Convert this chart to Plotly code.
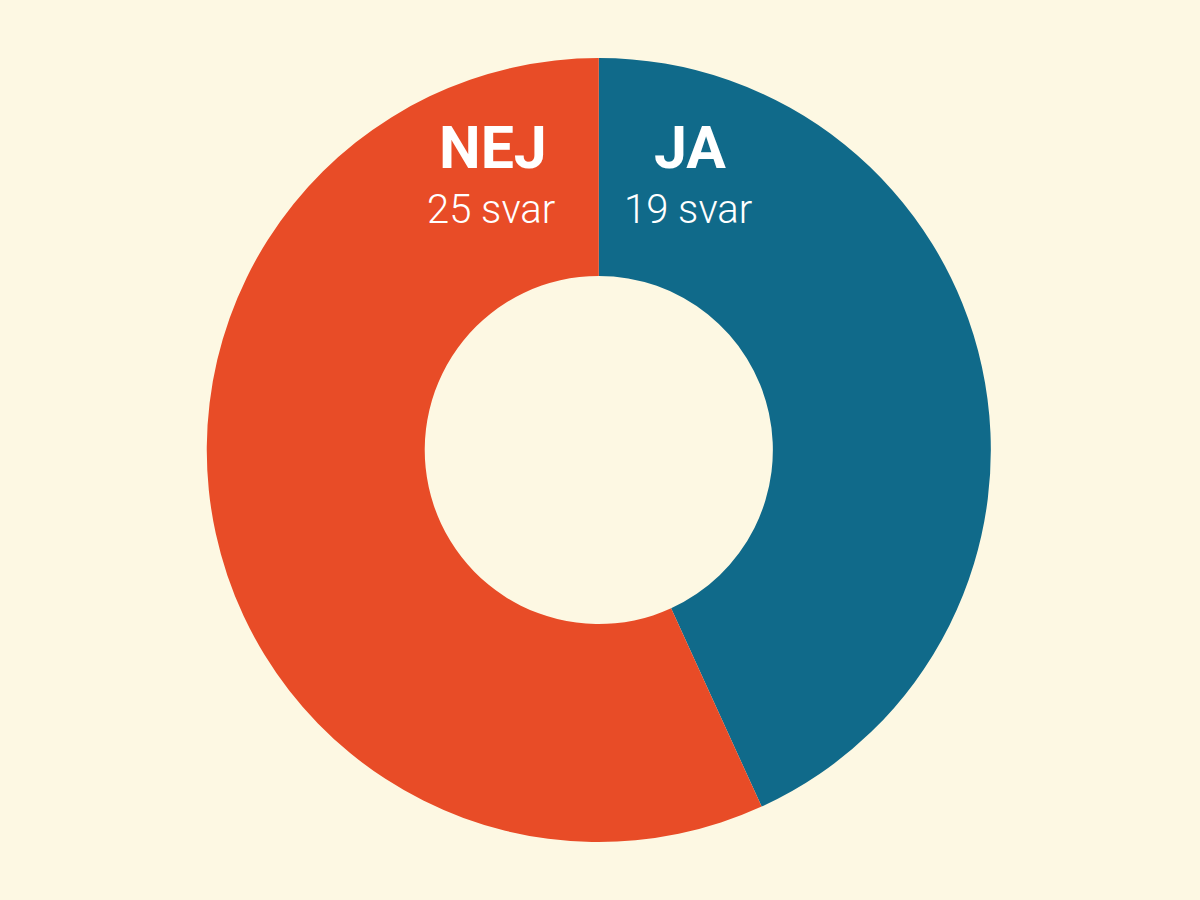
import plotly.graph_objects as go

labels = ["JA", "NEJ"]
values = [19, 25]
colors = ["#106A8A", "#E84C27"]
bg = "#FDF8E3"

fig = go.Figure(go.Pie(
    labels=labels, values=values, sort=False, direction="clockwise", rotation=0,
    hole=0.444, marker=dict(colors=colors, line=dict(width=0)),
    textinfo="none", showlegend=False,
    domain=dict(x=[0, 0.998], y=[0.0644, 0.9356]),
))

pos = {"JA": 690, "NEJ": 493}
ann = []
for lab, v in zip(labels, values):
    x = pos[lab] / 1200
    ann.append(dict(x=x, y=1 - 147 / 900, xref="paper", yref="paper", text=f"<b>{lab}</b>",
                    showarrow=False, font=dict(family="Roboto", size=59, color="white"),
                    xanchor="center", yanchor="middle"))
    ann.append(dict(x=x - 2 / 1200, y=1 - 209 / 900, xref="paper", yref="paper", text=f"{v} svar",
                    showarrow=False, font=dict(family="Roboto Light, Roboto", size=40, color="white"),
                    xanchor="center", yanchor="middle"))

fig.update_layout(width=1200, height=900, margin=dict(l=0, r=0, t=0, b=0),
                  paper_bgcolor=bg, plot_bgcolor=bg, annotations=ann)
fig.write_html("out.html", config={"displayModeBar": False},
               post_script="document.body.style.margin='0';document.body.style.background='%s';" % bg)
